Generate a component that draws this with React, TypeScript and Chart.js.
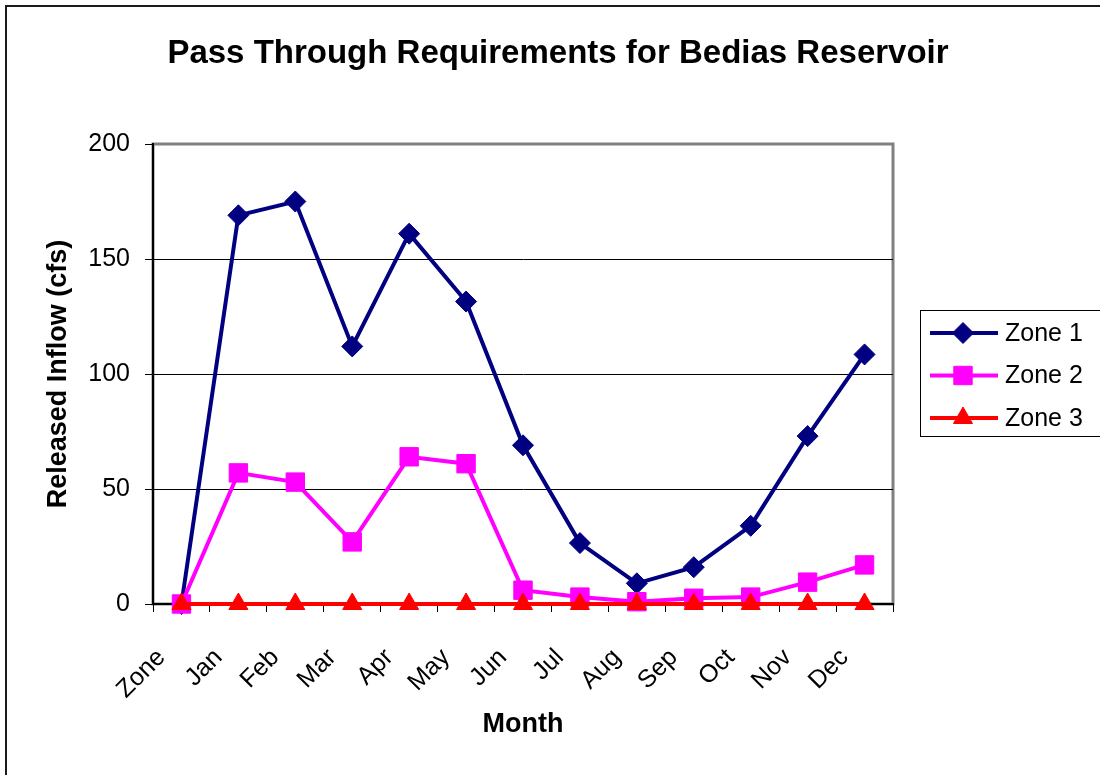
import React, { useEffect, useRef } from 'react';
import { Chart, registerables } from 'chart.js';
import { drawPoint } from 'chart.js/helpers';

Chart.register(...registerables);

const categories = ['Zone', 'Jan', 'Feb', 'Mar', 'Apr', 'May', 'Jun', 'Jul', 'Aug', 'Sep', 'Oct', 'Nov', 'Dec'];
const zone1 = [0, 169, 175, 112, 161, 131.5, 69, 26.5, 9, 16, 34, 73, 108.5];
const zone2 = [0, 57, 53, 27, 64, 61, 6, 3, 1, 2.5, 3, 9.5, 17];
const zone3 = [0, 0, 0, 0, 0, 0, 0, 0, 0, 0, 0, 0, 0];
const seriesNames = ['Zone 1', 'Zone 2', 'Zone 3'];
const yTicks = [0, 50, 100, 150, 200];

const FONT = 'Arial, "Liberation Sans", Helvetica, sans-serif';

const framePlugin = {
  id: 'frame',
  beforeDraw(chart: any) {
    const { ctx, chartArea: a } = chart;
    ctx.save();
    ctx.fillStyle = '#ffffff';
    ctx.fillRect(0, 0, chart.width, chart.height);
    ctx.strokeStyle = '#1a1a1a';
    ctx.lineWidth = 2;
    ctx.strokeRect(6, 6, chart.width + 20, chart.height + 20);
    ctx.strokeStyle = '#808080';
    ctx.lineWidth = 3;
    ctx.strokeRect(a.left, a.top, a.right - a.left, a.bottom - a.top);
    ctx.restore();
  },
  afterDraw(chart: any) {
    const ctx = chart.ctx;
    ctx.save();
    ctx.strokeStyle = '#000';
    ctx.lineWidth = 1;
    ctx.strokeRect(920.5, 310.5, 220, 126);
    chart.data.datasets.forEach((ds: any, i: number) => {
      const y = 333 + i * 42.5;
      ctx.strokeStyle = ds.borderColor;
      ctx.lineWidth = ds.borderWidth;
      ctx.beginPath();
      ctx.moveTo(930, y);
      ctx.lineTo(998, y);
      ctx.stroke();
      ctx.fillStyle = ds.pointBackgroundColor;
      ctx.strokeStyle = ds.pointBorderColor;
      ctx.lineWidth = ds.pointBorderWidth;
      drawPoint(ctx, { pointStyle: ds.pointStyle, rotation: 0, radius: ds.pointRadius, borderWidth: ds.pointBorderWidth }, 963, y);
      ctx.fillStyle = '#000';
      ctx.font = `25px ${FONT}`;
      ctx.textAlign = 'left';
      ctx.textBaseline = 'middle';
      ctx.fillText(ds.label, 1005, y + 1);
    });
    ctx.restore();
  },
};

export default function App() {
  const ref = useRef<HTMLCanvasElement | null>(null);

  useEffect(() => {
    if (!ref.current) return;
    const mk = (label: string, data: number[], color: string, style: string, radius: number, order: number) => ({
      label,
      data,
      borderColor: color,
      backgroundColor: color,
      borderWidth: 4,
      pointStyle: style,
      pointRadius: radius,
      pointHoverRadius: radius,
      pointBackgroundColor: color,
      pointBorderColor: color,
      pointBorderWidth: 1,
      tension: 0,
      order,
      clip: false,
    });
    const chart = new Chart(ref.current, {
      type: 'line',
      data: {
        labels: categories,
        datasets: [
          mk(seriesNames[0], zone1, '#000080', 'rectRot', 10.5, 3),
          mk(seriesNames[1], zone2, '#FF00FF', 'rect', 13, 2),
          mk(seriesNames[2], zone3, '#FF0000', 'triangle', 11, 1),
        ] as any,
      },
      options: {
        responsive: false,
        animation: false,
        devicePixelRatio: 1,
        layout: { padding: { left: 16, right: 0, top: 0, bottom: 0 } },
        plugins: {
          legend: { display: false },
          tooltip: { enabled: false },
          title: {
            display: true,
            text: 'Pass Through Requirements for Bedias Reservoir',
            color: '#000',
            font: { family: FONT, size: 33, weight: 'bold' },
            padding: { top: 34, bottom: 70.4 },
          },
        },
        scales: {
          x: {
            type: 'category',
            offset: true,
            grid: {
              display: true,
              drawOnChartArea: false,
              drawTicks: true,
              tickLength: 8,
              tickColor: '#000',
              color: '#000',
              offset: true,
              lineWidth: 1,
            },
            border: { display: true, color: '#000', width: 2 },
            ticks: {
              color: '#000',
              font: { family: FONT, size: 25 },
              maxRotation: 45,
              minRotation: 45,
              autoSkip: false,
              padding: 31,
              labelOffset: -20,
            },
            title: {
              display: true,
              text: 'Month',
              color: '#000',
              font: { family: FONT, size: 27, weight: 'bold' },
              padding: { top: 0, bottom: 34 },
            },
            afterFit: (s: any) => {
              s.height = 171;
            },
          },
          y: {
            type: 'linear',
            position: 'left',
            min: yTicks[0],
            max: yTicks[yTicks.length - 1],
            afterBuildTicks: (s: any) => {
              s.ticks = yTicks.map((v) => ({ value: v }));
            },
            grid: {
              color: (c: any) => (c.tick && (c.tick.value === 0 || c.tick.value === 200) ? 'rgba(0,0,0,0)' : '#000'),
              tickColor: '#000',
              tickLength: 8,
              lineWidth: 1,
            },
            border: { display: true, color: '#000', width: 2 },
            ticks: {
              color: '#000',
              font: { family: FONT, size: 25 },
              padding: 15,
            },
            title: {
              display: true,
              text: 'Released Inflow (cfs)',
              color: '#000',
              font: { family: FONT, size: 27, weight: 'bold' },
              padding: { top: 26, bottom: 0 },
            },
            afterFit: (s: any) => {
              s.width = 137;
            },
          },
          y2: {
            type: 'linear',
            position: 'right',
            display: true,
            grid: { display: false },
            ticks: { display: false },
            border: { display: false },
            afterFit: (s: any) => {
              s.width = 207;
            },
          },
        },
      } as any,
      plugins: [framePlugin],
    });
    return () => chart.destroy();
  }, []);

  return (
    <div style={{ position: 'absolute', left: 0, top: 0, width: 1100, height: 775, background: '#fff' }}>
      <canvas ref={ref} width={1100} height={775} style={{ display: 'block', width: 1100, height: 775 }} />
    </div>
  );
}
